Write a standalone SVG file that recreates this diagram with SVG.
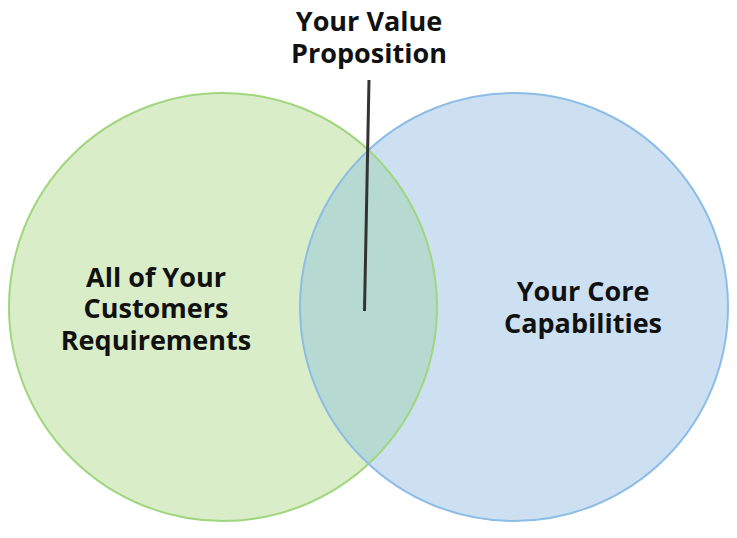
<svg xmlns="http://www.w3.org/2000/svg" width="737" height="538" viewBox="0 0 737 538">
<style>
text{font-family:"Open Sans","Liberation Sans",sans-serif;font-weight:bold;font-size:27px;fill:#111;text-anchor:middle}
</style>
<defs>
<clipPath id="clipG"><circle cx="223" cy="307" r="214"/></clipPath>
</defs>
<rect width="737" height="538" fill="#fff"/>
<g id="customers">
<circle cx="223" cy="307" r="214" fill="#d9edc8"/>
</g>
<g id="capabilities">
<circle cx="514" cy="307" r="214" fill="#cde0f2"/>
</g>
<g id="overlap">
<circle cx="514" cy="307" r="214" fill="#b6d9d2" clip-path="url(#clipG)"/>
</g>
<circle cx="223" cy="307" r="214" fill="none" stroke="#9fd67e" stroke-width="2"/>
<circle cx="514" cy="307" r="214" fill="none" stroke="#8dbde6" stroke-width="2"/>
<g id="connectors">
<line x1="369" y1="80" x2="364.5" y2="311" stroke="#333" stroke-width="3"/>
</g>
<g id="label-value">
<text x="369" y="31">Your Value</text>
<text x="369" y="63">Proposition</text>
</g>
<g id="label-customers">
<text x="156" y="287">All of Your</text>
<text x="156" y="318">Customers</text>
<text x="156" y="350">Requirements</text>
</g>
<g id="label-core">
<text x="583" y="301">Your Core</text>
<text x="583" y="333">Capabilities</text>
</g>
</svg>
